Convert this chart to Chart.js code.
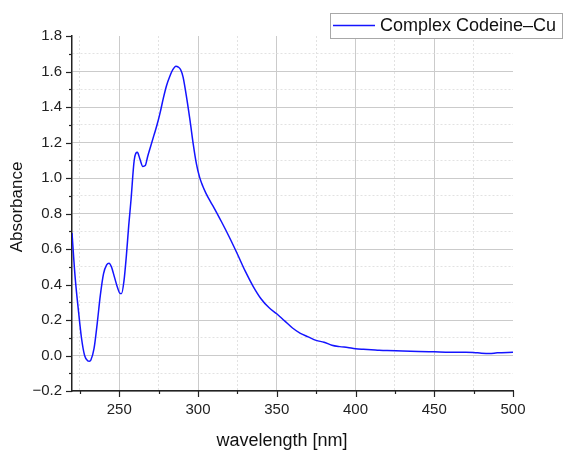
<!DOCTYPE html>
<html>
<head>
<meta charset="utf-8">
<script src="https://cdn.jsdelivr.net/npm/chart.js@4.4.1/dist/chart.umd.min.js"></script>
<style>
  html, body { margin: 0; padding: 0; background: #fff; }
  #wrap { width: 563px; height: 453px; }
</style>
</head>
<body>
<div id="wrap"><canvas id="spectrum" width="563" height="453"></canvas></div>
<script>
// spectrum
const wavelengths = [220, 222, 224, 226, 228, 230, 231, 232, 234, 236, 238, 240, 242, 243.5, 245, 247, 249, 250.5, 251.5,
    253, 254.5, 256, 257.5, 259.5, 261.5, 263, 265, 266.5, 268, 270, 272, 274, 276, 278, 280, 282, 284, 286, 287.5,
    289, 290.5, 293, 295, 297, 299, 301, 303, 305, 308, 310, 315, 320, 325, 330, 335, 340, 345, 350, 355, 360, 365,
    370, 375, 380, 385, 390, 395, 400, 405, 410, 415, 420, 430, 440, 450, 460, 470, 475, 480, 485, 490, 500];
const absorbance = [0.69, 0.44, 0.26, 0.10, 0.00, -0.03, -0.032, -0.025, 0.04, 0.18, 0.34, 0.46, 0.51, 0.52, 0.50, 0.44, 0.38, 0.35, 0.35,
    0.42, 0.56, 0.73, 0.88, 1.10, 1.145, 1.11, 1.065, 1.07, 1.12, 1.18, 1.24, 1.30, 1.37, 1.45, 1.52, 1.57, 1.61, 1.63, 1.625,
    1.61, 1.57, 1.44, 1.32, 1.19, 1.08, 1.005, 0.955, 0.915, 0.865, 0.835, 0.752, 0.665, 0.572, 0.475, 0.39, 0.32, 0.27, 0.235, 0.195, 0.155, 0.125,
    0.105, 0.085, 0.075, 0.058, 0.05, 0.045, 0.038, 0.035, 0.033, 0.030, 0.028, 0.026, 0.023, 0.021, 0.019, 0.019, 0.017, 0.013, 0.011, 0.015, 0.018];

const seriesName = 'Complex Codeine\u2013Cu';
const xMajor = [250, 300, 350, 400, 450, 500];
const xMinor = [225, 275, 325, 375, 425, 475];
const yMajor = [-0.2, 0, 0.2, 0.4, 0.6, 0.8, 1.0, 1.2, 1.4, 1.6, 1.8];
const yMinor = [-0.1, 0.1, 0.3, 0.5, 0.7, 0.9, 1.1, 1.3, 1.5, 1.7];

const FONT = "'Liberation Sans', Arial, sans-serif";
const axisColor = '#222';

function isMajor(list, v) {
    return list.some(m => Math.abs(m - v) < 1e-6);
}

function gridColor(list, last) {
    return (ctx) => {
        const v = ctx.tick ? ctx.tick.value : null;
        if (v === null || Math.abs(v - last) < 1e-6) return 'rgba(0,0,0,0)';
        return isMajor(list, v) ? '#cbcbcb' : '#e2e2e2';
    };
}

function gridDash(list) {
    return (ctx) => (ctx.tick && !isMajor(list, ctx.tick.value)) ? [2, 2] : [];
}

// axis titles, tick marks and the boxed legend
const extras = {
    id: 'extras',
    afterDraw(chart) {
        const c = chart.ctx;
        const xs = chart.scales.x, ys = chart.scales.y;
        const area = chart.chartArea;
        c.save();
        c.strokeStyle = axisColor;
        c.lineWidth = 1.2;
        xs.ticks.forEach(t => {
            const px = Math.round(xs.getPixelForValue(t.value)) + 0.5;
            const len = isMajor(xMajor, t.value) ? 6 : 3;
            c.beginPath(); c.moveTo(px, area.bottom); c.lineTo(px, area.bottom + len); c.stroke();
        });
        ys.ticks.forEach(t => {
            const py = Math.round(ys.getPixelForValue(t.value)) + 0.5;
            const len = isMajor(yMajor, t.value) ? 6 : 3;
            c.beginPath(); c.moveTo(area.left, py); c.lineTo(area.left - len, py); c.stroke();
        });

        c.fillStyle = '#111';
        c.font = '18px ' + FONT;
        c.textAlign = 'center';
        c.textBaseline = 'middle';
        c.fillText('wavelength [nm]', 282, 441);
        c.save();
        c.translate(17, 207);
        c.rotate(-Math.PI / 2);
        c.font = '17px ' + FONT;
        c.fillText('Absorbance', 0, 0);
        c.restore();

        // legend
        const ds = chart.data.datasets[0];
        c.fillStyle = '#fff';
        c.fillRect(330, 13, 232, 25);
        c.strokeStyle = '#a8a8a8';
        c.lineWidth = 1;
        c.strokeRect(330.5, 13.5, 232, 25);
        c.strokeStyle = ds.borderColor;
        c.lineWidth = 1.5;
        c.beginPath(); c.moveTo(333, 25.5); c.lineTo(375, 25.5); c.stroke();
        c.fillStyle = '#111';
        c.font = '18px ' + FONT;
        c.textAlign = 'left';
        c.fillText(ds.label, 380, 26);
        c.restore();
    }
};

new Chart(document.getElementById('spectrum'), {
    type: 'line',
    data: {
        datasets: [{
            label: seriesName,
            data: wavelengths.map((w, i) => ({ x: w, y: absorbance[i] })),
            borderColor: '#1414ff',
            borderWidth: 1.5,
            pointRadius: 0,
            cubicInterpolationMode: 'monotone',
            fill: false
        }]
    },
    options: {
        responsive: false,
        animation: false,
        layout: { padding: { top: 36, right: 50, left: 0, bottom: 0 } },
        plugins: { legend: { display: false }, tooltip: { enabled: false } },
        scales: {
            x: {
                type: 'linear',
                min: 220,
                max: 500,
                afterBuildTicks: (s) => { s.ticks = [...xMajor, ...xMinor].sort((a, b) => a - b).map(v => ({ value: v })); },
                afterFit: (s) => { s.height = 62; },
                ticks: {
                    autoSkip: false,
                    maxRotation: 0,
                    padding: 10,
                    color: '#222',
                    font: { family: FONT, size: 15 },
                    callback: (v) => isMajor(xMajor, v) ? String(v) : ''
                },
                grid: { color: gridColor(xMajor, 500), lineWidth: 1, drawTicks: false },
                border: { color: axisColor, width: 1.5, dash: gridDash(xMajor) }
            },
            y: {
                min: -0.2,
                max: 1.8,
                afterBuildTicks: (s) => { s.ticks = [...yMajor, ...yMinor].sort((a, b) => a - b).map(v => ({ value: v })); },
                afterFit: (s) => { s.width = 72; },
                ticks: {
                    autoSkip: false,
                    padding: 10,
                    color: '#222',
                    font: { family: FONT, size: 15 },
                    callback: (v) => isMajor(yMajor, v) ? v.toFixed(1).replace('-', '\u2212') : ''
                },
                grid: { color: gridColor(yMajor, 1.8), lineWidth: 1, drawTicks: false },
                border: { color: axisColor, width: 1.5, dash: gridDash(yMajor) }
            }
        }
    },
    plugins: [extras]
});
</script>
</body>
</html>
